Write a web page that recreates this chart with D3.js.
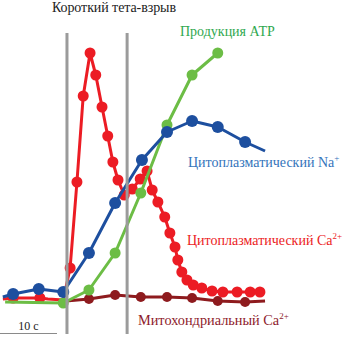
<!DOCTYPE html>
<html><head><meta charset="utf-8">
<script src="https://cdn.jsdelivr.net/npm/d3@7"></script>
<style>html,body{margin:0;padding:0;background:#fff;}svg{display:block;}</style>
</head><body>
<svg id="chart" width="345" height="337"></svg>
<script>
// time in seconds, values in arbitrary units
const naTime   = [0.5, 2.3, 6.8, 11.1, 15.6, 20.2, 24.9, 29.3, 33.7, 38.2, 43.0, 46.5];
const naValue  = [1.2, 2.4, 4.4, 3.2, 18.8, 38.8, 56, 67.2, 71.6, 69.2, 63.2, 59.6];
const naDots   = [0,1,1,1,1,1,1,1,1,1,1,0];

const atpTime  = [0.9, 11.1, 15.6, 20.2, 24.7, 29.3, 33.7, 38.2];
const atpValue = [-0.8, -1.2, 4, 18.8, 42.8, 70, 90, 98.8];
const atpDots  = [0,1,1,1,1,1,1,1];

const mitoTime  = [11.6, 15.6, 20.2, 24.7, 29.3, 33.7, 38.2, 43.0, 46.5];
const mitoValue = [-0.4, 0.4, 2, 1.2, 1.2, 0.8, -0.4, -0.8, -0.4];
const mitoDots  = [0,1,1,1,1,1,1,1,0];

const caTime  = [0.5, 2.3, 7.0, 8.4, 11.1, 12.3, 13.5, 14.6, 15.8, 16.8, 17.9, 18.9, 19.8, 20.7, 21.8,
                 23.2, 24.6, 25.8, 26.7, 27.7, 28.9, 29.8, 30.7, 31.2, 31.9, 32.8, 33.9, 35.4, 37.2, 39.1, 41.6, 43.9, 45.6];
const caValue = [0.4, 0.8, 0.8, 0.4, 0, 12.8, 47.2, 81.6, 98.8, 90, 77.2, 65.6, 55.2, 48, 42,
                 44.4, 48.4, 51.6, 44, 39.2, 33.2, 26.8, 21.2, 16, 11.2, 8, 6, 4.8, 3.6, 3.2, 3.2, 3.2, 3.2];
const caDots  = [0,1,1,0,0,1,1,1,1,1,1,1,1,1,1,1,1,1,1,1,1,1,1,1,1,1,1,1,1,1,1,1,1];

const burstTimes = [11.75, 22.3];
const scaleBarSeconds = 10;

const title = "Короткий тета-взрыв";
const labelATP = "Продукция АТР";
const labelNa = ["Цитоплазматический Na", "+"];
const labelCa = ["Цитоплазматический Ca", "2+"];
const labelMito = ["Митохондриальный Ca", "2+"];
const scaleLabel = "10 с";

const svg = d3.select("#chart");
const x = d3.scaleLinear().domain([0, 60]).range([0, 342]);
const y = d3.scaleLinear().domain([0, 100]).range([300, 50]);

const series = [
  {t: mitoTime, v: mitoValue, d: mitoDots, color: "#8e1b1e", r: 5},
  {t: caTime, v: caValue, d: caDots, color: "#ec1c24", r: 5.5},
  {t: atpTime, v: atpValue, d: atpDots, color: "#6cbd45", r: 5.5},
  {t: naTime, v: naValue, d: naDots, color: "#1d4f9f", r: 6}
];

const line = d3.line().x(p => x(p[0])).y(p => y(p[1]));
series.forEach(s => {
  const pts = s.t.map((t, i) => [t, s.v[i], s.d[i]]);
  const g = svg.append("g");
  g.append("path").attr("d", line(pts)).attr("fill", "none")
    .attr("stroke", s.color).attr("stroke-width", 3).attr("stroke-linejoin", "round");
  g.selectAll("circle").data(pts.filter(p => p[2])).join("circle")
    .attr("cx", p => x(p[0])).attr("cy", p => y(p[1])).attr("r", s.r).attr("fill", s.color);
});

// burst markers
svg.selectAll("line.burst").data(burstTimes).join("line").attr("class", "burst")
  .attr("x1", d => x(d)).attr("x2", d => x(d)).attr("y1", 33).attr("y2", 334)
  .attr("stroke", "#9b9b9b").attr("stroke-width", 3);

const font = "Liberation Serif";

// scale bar
svg.append("line").attr("x1", x(0)).attr("x2", x(scaleBarSeconds)).attr("y1", 333.5).attr("y2", 333.5)
  .attr("stroke", "#8a8a8a").attr("stroke-width", 1);
svg.append("text").attr("font-family", font).attr("x", x(scaleBarSeconds / 2)).attr("y", 330).attr("text-anchor", "middle")
  .attr("font-size", 12).attr("fill", "#222").text(scaleLabel);

svg.append("text").attr("font-family", font).attr("x", 52).attr("y", 12)
  .attr("font-size", 14).attr("fill", "#222")
  .attr("textLength", 124).attr("lengthAdjust", "spacing").text(title);
svg.append("text").attr("font-family", font).attr("x", 180).attr("y", 36)
  .attr("font-size", 14).attr("fill", "#2fa84f").text(labelATP);

function supLabel(xp, yp, parts, color, fs) {
  const t = svg.append("text").attr("font-family", font).attr("x", xp).attr("y", yp)
    .attr("font-size", fs).attr("fill", color);
  t.append("tspan").text(parts[0]);
  t.append("tspan").attr("dy", -6).attr("font-size", 9).text(parts[1]);
}
supLabel(188, 167, labelNa, "#3474bb", 14);
supLabel(187, 245, labelCa, "#ec1c24", 14);
supLabel(138, 325, labelMito, "#8e1b2c", 14.3);
</script>
</body></html>
